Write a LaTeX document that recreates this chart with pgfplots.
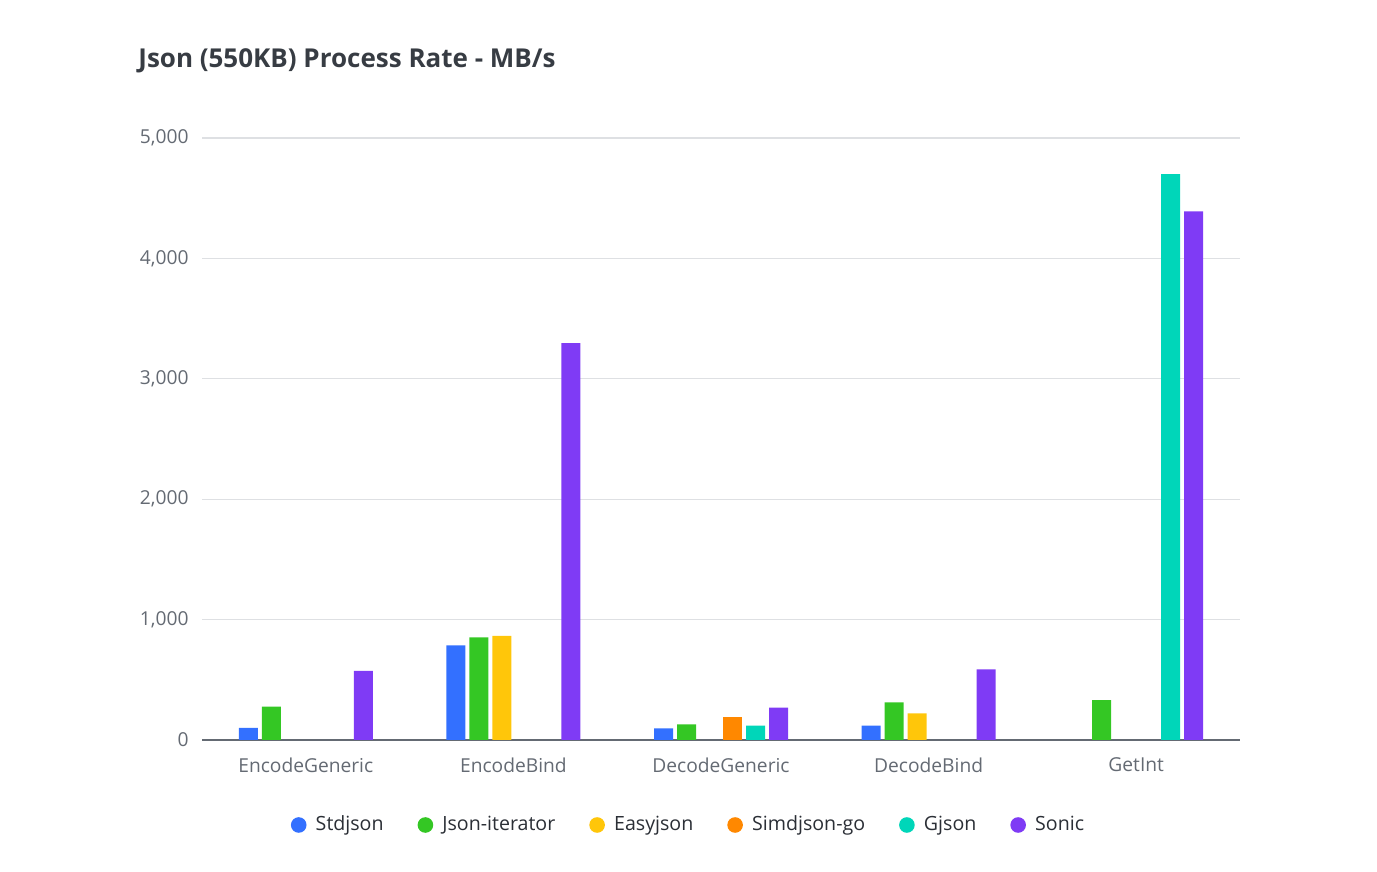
\documentclass[border=0pt]{standalone}
\usepackage{pgfplots}
\pgfplotsset{compat=1.18}
\usepackage{fontspec}
\setmainfont{Open Sans}
\definecolor{cStd}{HTML}{3370FF}
\definecolor{cJit}{HTML}{34C724}
\definecolor{cEasy}{HTML}{FFC60A}
\definecolor{cSimd}{HTML}{FF8800}
\definecolor{cGj}{HTML}{00D6B9}
\definecolor{cSon}{HTML}{7F3BF5}
\definecolor{cTitle}{HTML}{373C43}
\definecolor{cTick}{HTML}{646A73}
\definecolor{cLeg}{HTML}{2B2F36}
\definecolor{cGrid}{HTML}{DEE0E3}
\definecolor{cAxis}{HTML}{646A73}
\pgfplotsset{leg/.style={legend image code/.code={\fill[#1] (3.9pt,0pt) circle (3.9pt);}}}
\begin{document}
\begin{tikzpicture}
\useasboundingbox (0,0) rectangle (688.5pt,436pt);
\node[anchor=west, font=\bfseries\fontsize{13}{15}\selectfont, text=cTitle, inner sep=0pt] at (69pt,405.5pt) {Json (550KB) Process Rate - MB/s};
\begin{axis}[
  at={(101pt,66pt)}, anchor=south west,
  scale only axis, width=519pt, height=301pt,
  ymin=0, ymax=5000, xmin=-0.5, xmax=4.5,
  ytick={0,1000,2000,3000,4000,5000},
  xtick={0,1,2,3,4},
  xticklabels={EncodeGeneric,EncodeBind,DecodeGeneric,DecodeBind,GetInt},
  ybar=2pt, bar width=9.5pt,
  axis x line*=bottom, axis y line*=left,
  y axis line style={draw=none},
  x axis line style={cAxis, line width=0.9pt},
  major tick length=0pt,
  ymajorgrids, grid style={cGrid, line width=0.6pt},
  /pgf/number format/assume math mode=true,
  /pgf/number format/.cd, 1000 sep={,}, /pgfplots/.cd,
  ticklabel style={font=\fontsize{9.6}{11}\selectfont, text=cTick},
  yticklabel style={xshift=-3.2pt},
  xticklabel style={yshift=-5.5pt},
  legend columns=6,
  legend style={draw=none, at={(0.4687,0)}, anchor=center, yshift=-42.5pt,
    font=\fontsize{9.8}{11}\selectfont, text=cLeg, nodes={inner sep=1pt},
    /tikz/every odd column/.append style={column sep=3.6pt},
    /tikz/every even column/.append style={column sep=16pt}},
]
\addplot[fill=cStd, draw=none, leg=cStd] coordinates {(0,100) (1,786) (2,97) (3,119)};
\addlegendentry{Stdjson}
\addplot[fill=cJit, draw=none, leg=cJit] coordinates {(0,277) (1,853) (2,130) (3,313) (4,332)};
\addlegendentry{Json-iterator}
\addplot[fill=cEasy, draw=none, leg=cEasy] coordinates {(1,864) (3,222)};
\addlegendentry{Easyjson}
\addplot[fill=cSimd, draw=none, leg=cSimd] coordinates {(2,194)};
\addlegendentry{Simdjson-go}
\addplot[fill=cGj, draw=none, leg=cGj] coordinates {(2,119) (4,4701)};
\addlegendentry{Gjson}
\addplot[fill=cSon, draw=none, leg=cSon] coordinates {(0,575) (1,3297) (2,268) (3,587) (4,4391)};
\addlegendentry{Sonic}
\end{axis}
\end{tikzpicture}
\end{document}
